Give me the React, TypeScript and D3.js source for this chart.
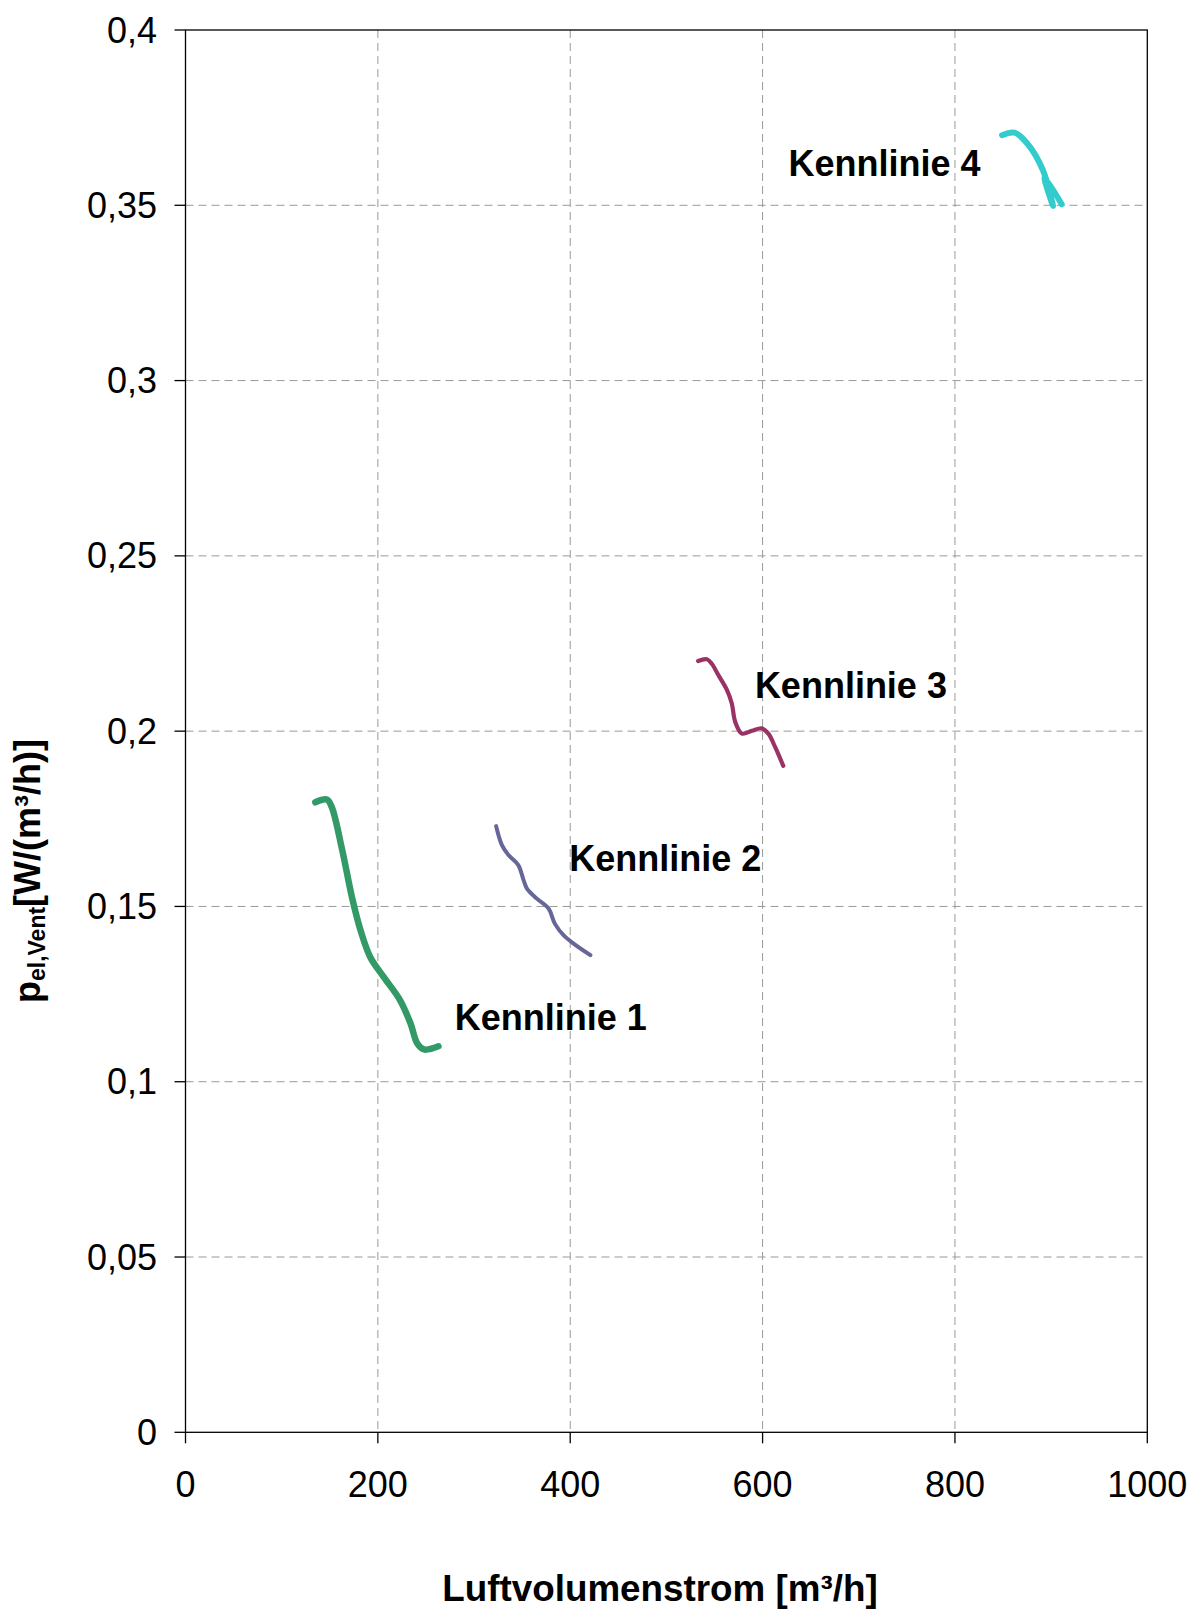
import React from "react";
import * as d3 from "d3";

const xTicks = [0, 200, 400, 600, 800, 1000];
const yTicks = [0, 0.05, 0.1, 0.15, 0.2, 0.25, 0.3, 0.35, 0.4];

const k1X = [135, 147, 152, 163, 173, 182, 192, 206, 223, 234, 241, 248, 263];
const k1Y = [0.1797, 0.1805, 0.1784, 0.166, 0.1527, 0.1432, 0.1356, 0.1299, 0.1233, 0.1166, 0.1109, 0.1092, 0.1101];

const k2X = [323, 329, 336, 346, 351.5, 355, 365, 377.5, 384, 393, 403.5, 421];
const k2Y = [0.1729, 0.1675, 0.1646, 0.1618, 0.1575, 0.1551, 0.1523, 0.1494, 0.1451, 0.1418, 0.1394, 0.1361];

const k3X = [533, 542, 547, 554, 563, 568, 571.5, 578.5, 589, 599, 606, 613, 621.5];
const k3Y = [0.22, 0.2205, 0.2193, 0.216, 0.2117, 0.2079, 0.2027, 0.1993, 0.2001, 0.2008, 0.1993, 0.1955, 0.1901];

const k4X = [849, 862, 875, 891.5, 902, 893, 911];
const k4Y = [0.37, 0.3707, 0.3677, 0.36, 0.3498, 0.358, 0.3503];

const seriesNames = ["Kennlinie 1", "Kennlinie 2", "Kennlinie 3", "Kennlinie 4"];
const seriesColors = ["#339966", "#666699", "#993366", "#33cccc"];
const seriesWidths = [6.5, 4, 4.2, 6];
// label anchor in data units (left edge, baseline)
const labelX = [280, 399, 592, 627];
const labelY = [0.1148, 0.16, 0.2094, 0.3584];

const FONT = "'Liberation Sans', Arial, Helvetica, sans-serif";

export default function App() {
  const W = 1192;
  const H = 1609;
  const left = 185.5;
  const right = 1147.3;
  const top = 30;
  const bottom = 1432.3;

  const x = d3.scaleLinear().domain([0, 1000]).range([left, right]);
  const y = d3.scaleLinear().domain([0, 0.4]).range([bottom, top]);

  const seriesX = [k1X, k2X, k3X, k4X];
  const seriesY = [k1Y, k2Y, k3Y, k4Y];

  const line = d3
    .line<[number, number]>()
    .x((d) => x(d[0]))
    .y((d) => y(d[1]))
    .curve(d3.curveCatmullRom.alpha(0.5));

  const fmtY = (v: number) => String(+v.toFixed(2)).replace(".", ",");

  return (
    <svg
      width={W}
      height={H}
      style={{ position: "absolute", left: 0, top: 0, background: "#fff" }}
      fontFamily={FONT}
    >
      <rect x={0} y={0} width={W} height={H} fill="#fff" />
      {/* grid */}
      {xTicks.slice(1, -1).map((t) => (
        <line
          key={"gx" + t}
          x1={x(t)}
          x2={x(t)}
          y1={top}
          y2={bottom}
          stroke="#999"
          strokeWidth={1}
          strokeDasharray="8,5"
        />
      ))}
      {yTicks.slice(1, -1).map((t) => (
        <line
          key={"gy" + t}
          x1={left}
          x2={right}
          y1={y(t)}
          y2={y(t)}
          stroke="#999"
          strokeWidth={1}
          strokeDasharray="8,5"
        />
      ))}
      {/* frame */}
      <rect
        x={left}
        y={top}
        width={right - left}
        height={bottom - top}
        fill="none"
        stroke="#000"
        strokeWidth={1.3}
      />
      {/* ticks */}
      {yTicks.map((t) => (
        <g key={"ty" + t}>
          <line x1={left - 11} x2={left} y1={y(t)} y2={y(t)} stroke="#000" strokeWidth={1.3} />
          <text
            x={157}
            y={y(t)}
            dy="0.35em"
            textAnchor="end"
            fontSize={36}
            fill="#000"
          >
            {fmtY(t)}
          </text>
        </g>
      ))}
      {xTicks.map((t) => (
        <g key={"tx" + t}>
          <line x1={x(t)} x2={x(t)} y1={bottom} y2={bottom + 11} stroke="#000" strokeWidth={1.3} />
          <text x={x(t)} y={1497} textAnchor="middle" fontSize={36} fill="#000">
            {String(t)}
          </text>
        </g>
      ))}
      {/* series */}
      {seriesX.map((xs, i) => (
        <path
          key={"s" + i}
          d={line(xs.map((v, j) => [v, seriesY[i][j]] as [number, number])) || ""}
          fill="none"
          stroke={seriesColors[i]}
          strokeWidth={seriesWidths[i]}
          strokeLinecap="round"
          strokeLinejoin="round"
        />
      ))}
      {/* labels */}
      {seriesNames.map((n, i) => (
        <text
          key={"l" + i}
          x={x(labelX[i])}
          y={y(labelY[i])}
          fontSize={36}
          fontWeight="bold"
          fill="#000"
        >
          {n}
        </text>
      ))}
      {/* axis titles */}
      <text x={660} y={1601} textAnchor="middle" fontSize={36.8} fontWeight="bold" fill="#000">
        Luftvolumenstrom [m³/h]
      </text>
      <text
        transform="translate(40,871) rotate(-90)"
        textAnchor="middle"
        fontSize={36}
        fontWeight="bold"
        fill="#000"
      >
        p
        <tspan fontSize={23} dy={5}>
          el,Vent
        </tspan>
        <tspan dy={-5}>[W/(m³/h)]</tspan>
      </text>
    </svg>
  );
}
